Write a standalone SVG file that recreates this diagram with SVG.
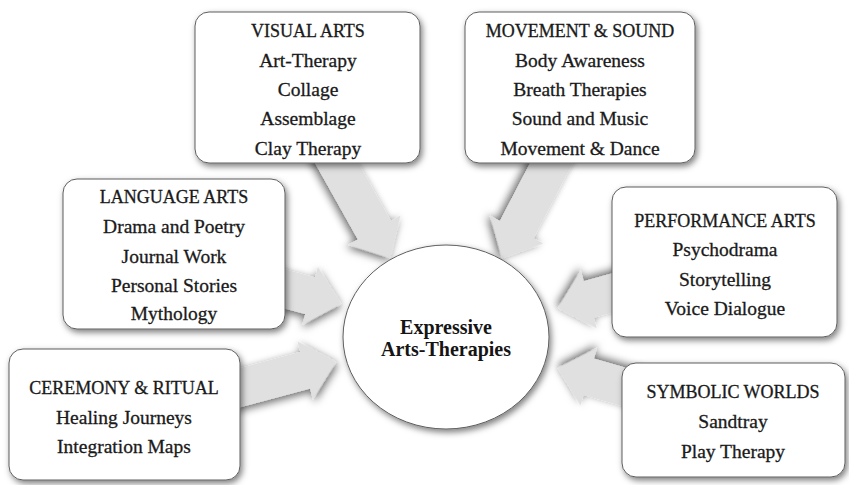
<svg xmlns="http://www.w3.org/2000/svg" width="849" height="485" viewBox="0 0 849 485">
  <defs>
    <filter id="sh" x="-20%" y="-20%" width="140%" height="150%">
      <feDropShadow dx="2" dy="3" stdDeviation="3" flood-color="#000" flood-opacity="0.5"/>
    </filter>
    <filter id="ash" x="-40%" y="-40%" width="180%" height="180%">
      <feDropShadow dx="1" dy="3" stdDeviation="4.5" flood-color="#000" flood-opacity="0.6"/>
    </filter>
  </defs>
  <style>
    .box { fill: #ffffff; stroke: #5e5e5e; stroke-width: 1; filter: url(#sh); }
    .arrow { fill: #e0e0e0; filter: url(#ash); }
    .t { font-family: "Liberation Serif", "Times New Roman", serif; font-size: 19.5px; fill: #1a1a1a; stroke: #1a1a1a; stroke-width: 0.3; text-anchor: middle; }
    .h { font-size: 18px; }
    .c { font-family: "Liberation Serif", "Times New Roman", serif; font-size: 20px; font-weight: bold; fill: #151515; text-anchor: middle; }
  </style>
  <rect width="849" height="485" fill="#ffffff"/>

  <g id="connectors">
    <path class="arrow" transform="translate(390,258) rotate(60.7)" d="M-130,-19 L-32,-19 L-32,-30 L0,0 L-32,30 L-32,19 L-130,19 Z"/>
    <path class="arrow" transform="translate(502,258) rotate(117.5)" d="M-130,-19 L-32,-19 L-32,-30 L0,0 L-32,30 L-32,19 L-130,19 Z"/>
    <path class="arrow" transform="translate(341,304) rotate(15)" d="M-100,-19 L-32,-19 L-32,-30 L0,0 L-32,30 L-32,19 L-100,19 Z"/>
    <path class="arrow" transform="translate(336,362) rotate(-15)" d="M-110,-19 L-32,-19 L-32,-30 L0,0 L-32,30 L-32,19 L-110,19 Z"/>
    <path class="arrow" transform="translate(558,308) rotate(164.5)" d="M-90,-19 L-32,-19 L-32,-30 L0,0 L-32,30 L-32,19 L-90,19 Z"/>
    <path class="arrow" transform="translate(558,368) rotate(196)" d="M-100,-19 L-32,-19 L-32,-30 L0,0 L-32,30 L-32,19 L-100,19 Z"/>
  </g>

  <g id="center">
    <ellipse cx="446" cy="337" rx="103" ry="92" fill="#ffffff" stroke="#5e5e5e" stroke-width="1" filter="url(#sh)"/>
    <text class="c" x="446" y="334">Expressive</text>
    <text class="c" x="446" y="356">Arts-Therapies</text>
  </g>

  <g id="visual-arts">
    <rect class="box" x="195" y="12" width="225" height="151" rx="14"/>
    <text class="t h" x="308" y="37">VISUAL ARTS</text>
    <text class="t" x="308" y="67">Art-Therapy</text>
    <text class="t" x="308" y="96">Collage</text>
    <text class="t" x="308" y="125">Assemblage</text>
    <text class="t" x="308" y="155">Clay Therapy</text>
  </g>

  <g id="movement-sound">
    <rect class="box" x="465" y="12" width="230" height="151" rx="14"/>
    <text class="t h" x="580" y="37">MOVEMENT &amp; SOUND</text>
    <text class="t" x="580" y="67">Body Awareness</text>
    <text class="t" x="580" y="96">Breath Therapies</text>
    <text class="t" x="580" y="125">Sound and Music</text>
    <text class="t" x="580" y="155">Movement &amp; Dance</text>
  </g>

  <g id="language-arts">
    <rect class="box" x="63" y="179" width="222" height="150" rx="14"/>
    <text class="t h" x="174" y="203">LANGUAGE ARTS</text>
    <text class="t" x="174" y="233">Drama and Poetry</text>
    <text class="t" x="174" y="263">Journal Work</text>
    <text class="t" x="174" y="292">Personal Stories</text>
    <text class="t" x="174" y="320">Mythology</text>
  </g>

  <g id="performance-arts">
    <rect class="box" x="612" y="187" width="225" height="150" rx="14"/>
    <text class="t h" x="725" y="227">PERFORMANCE ARTS</text>
    <text class="t" x="725" y="256">Psychodrama</text>
    <text class="t" x="725" y="286">Storytelling</text>
    <text class="t" x="725" y="315">Voice Dialogue</text>
  </g>

  <g id="ceremony-ritual">
    <rect class="box" x="9" y="349" width="231" height="131" rx="14"/>
    <text class="t h" x="124" y="394">CEREMONY &amp; RITUAL</text>
    <text class="t" x="124" y="424">Healing Journeys</text>
    <text class="t" x="124" y="453">Integration Maps</text>
  </g>

  <g id="symbolic-worlds">
    <rect class="box" x="622" y="363" width="223" height="114" rx="14"/>
    <text class="t h" x="733" y="398">SYMBOLIC WORLDS</text>
    <text class="t" x="733" y="428">Sandtray</text>
    <text class="t" x="733" y="458">Play Therapy</text>
  </g>
</svg>
